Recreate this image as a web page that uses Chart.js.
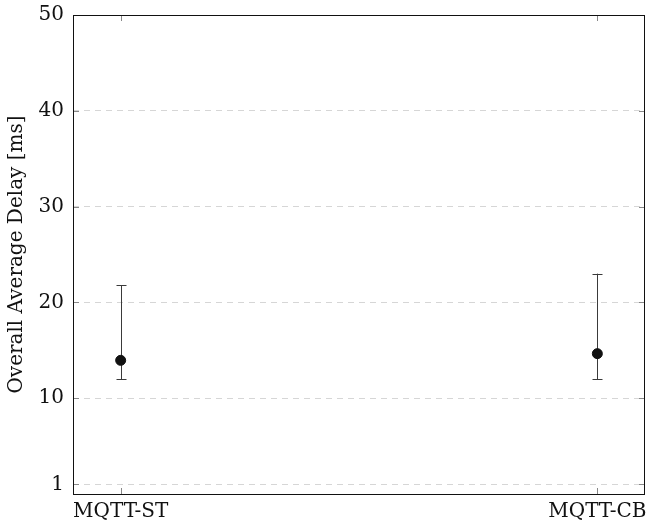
<!DOCTYPE html>
<html>
<head>
<meta charset="utf-8">
<script src="https://cdn.jsdelivr.net/npm/chart.js@4/dist/chart.umd.min.js"></script>
<style>
    html, body { margin: 0; padding: 0; background: #fff; }
    #wrap { width: 651px; height: 524px; }
</style>
</head>
<body>
<div id="wrap"><canvas id="delayChart" width="651" height="524"></canvas></div>
<script>
// Delay data per broker setup
const categories = ['MQTT-ST', 'MQTT-CB'];
const avgDelay = [13.95, 14.65];
const delayMin = [12, 12];
const delayMax = [21.8, 23];
const yTicks = [1, 10, 20, 30, 40, 50];

const FONT = { family: '"DejaVu Serif", "Liberation Serif", serif', size: 20 };

// whiskers for each point, drawn under the markers
const errorBars = {
    id: 'errorBars',
    beforeDatasetsDraw(chart) {
        const { ctx, scales: { x, y } } = chart;
        ctx.save();
        ctx.strokeStyle = '#3a3a3a';
        ctx.lineWidth = 1;
        categories.forEach((c, i) => {
            const px = Math.round(x.getPixelForValue(i)) + 0.5;
            const top = y.getPixelForValue(delayMax[i]);
            const bot = y.getPixelForValue(delayMin[i]);
            ctx.beginPath();
            ctx.moveTo(px, top);
            ctx.lineTo(px, bot);
            ctx.moveTo(px - 5, Math.round(top) + 0.5);
            ctx.lineTo(px + 5, Math.round(top) + 0.5);
            ctx.moveTo(px - 5, Math.round(bot) + 0.5);
            ctx.lineTo(px + 5, Math.round(bot) + 0.5);
            ctx.stroke();
        });
        ctx.restore();
    }
};

// box frame plus inward tick marks on every side
const frame = {
    id: 'frame',
    afterDraw(chart) {
        const { ctx, chartArea: a, scales: { x, y } } = chart;
        ctx.save();
        ctx.strokeStyle = '#888';
        ctx.lineWidth = 1;
        ctx.beginPath();
        yTicks.forEach(v => {
            const py = Math.round(y.getPixelForValue(v)) + 0.5;
            ctx.moveTo(a.left, py); ctx.lineTo(a.left + 6, py);
            ctx.moveTo(a.right, py); ctx.lineTo(a.right - 6, py);
        });
        categories.forEach((c, i) => {
            const px = Math.round(x.getPixelForValue(i)) + 0.5;
            ctx.moveTo(px, a.bottom); ctx.lineTo(px, a.bottom - 6);
            ctx.moveTo(px, a.top); ctx.lineTo(px, a.top + 6);
        });
        ctx.stroke();
        ctx.strokeStyle = '#111';
        ctx.strokeRect(Math.round(a.left) + 0.5, Math.round(a.top) + 0.5,
            Math.round(a.right - a.left) - 1, Math.round(a.bottom - a.top));
        ctx.restore();
    }
};

new Chart(document.getElementById('delayChart'), {
    type: 'scatter',
    data: {
        datasets: [{
            data: avgDelay.map((v, i) => ({ x: i, y: v })),
            backgroundColor: '#111',
            borderColor: '#111',
            pointRadius: 5,
            pointHoverRadius: 5
        }]
    },
    options: {
        responsive: false,
        animation: false,
        layout: { padding: { top: 15, right: 5, left: 0, bottom: 0 } },
        plugins: {
            legend: { display: false },
            tooltip: { enabled: false }
        },
        scales: {
            x: {
                type: 'linear',
                min: -0.1,
                max: 1.1,
                afterBuildTicks: s => { s.ticks = categories.map((c, i) => ({ value: i })); },
                afterFit: s => {
                    s.height = 30;
                    s.paddingLeft = 0;
                    s.paddingRight = 0;
                },
                grid: { display: false, drawTicks: false },
                border: { display: false },
                ticks: {
                    color: '#111',
                    font: FONT,
                    padding: 6,
                    maxRotation: 0,
                    callback: v => categories[v]
                }
            },
            y: {
                min: 0,
                max: 50,
                afterBuildTicks: s => { s.ticks = yTicks.map(v => ({ value: v })); },
                afterFit: s => {
                    s.width = 73;
                    s.paddingTop = 0;
                    s.paddingBottom = 0;
                },
                grid: {
                    color: '#d6d6d6',
                    lineWidth: 1,
                    drawTicks: false
                },
                border: { display: false, dash: [6, 5] },
                ticks: { color: '#111', font: FONT, padding: 9 },
                title: {
                    display: true,
                    text: 'Overall Average Delay [ms]',
                    color: '#111',
                    font: FONT,
                    padding: { top: 5, bottom: 0 }
                }
            }
        }
    },
    plugins: [errorBars, frame]
});
</script>
</body>
</html>
